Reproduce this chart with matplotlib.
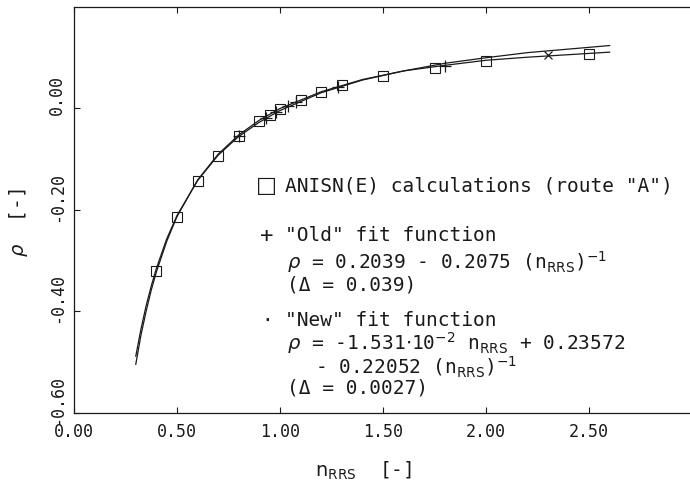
import numpy as np
import matplotlib
matplotlib.use('Agg')
from matplotlib import pyplot as plt
from matplotlib.transforms import ScaledTranslation

# values
n_fit = [0.30, 0.325, 0.35, 0.375, 0.40, 0.45, 0.50, 0.60, 0.70, 0.80, 0.90, 1.00,
         1.20, 1.40, 1.60, 1.80, 2.00, 2.20, 2.40, 2.60]
rho_old = [-0.488, -0.435, -0.389, -0.350, -0.315, -0.257, -0.211, -0.142, -0.092,
           -0.055, -0.027, -0.004, 0.031, 0.056, 0.074, 0.089, 0.100, 0.110, 0.117,
           0.124]
rho_new = [-0.504, -0.447, -0.400, -0.358, -0.322, -0.262, -0.213, -0.141, -0.090,
           -0.052, -0.023, 0.000, 0.033, 0.057, 0.074, 0.085, 0.095, 0.101, 0.106,
           0.111]

n_anisn = [0.40, 0.50, 0.60, 0.70, 0.80, 0.90, 0.95, 1.00, 1.10, 1.20, 1.30, 1.50,
           1.75, 2.00, 2.50]
rho_anisn = [-0.321, -0.214, -0.143, -0.093, -0.054, -0.024, -0.012, -0.001, 0.017,
             0.033, 0.046, 0.064, 0.080, 0.093, 0.107]

n_plus = [0.80, 0.93, 0.98, 1.04, 1.08, 1.28, 1.80]
rho_plus = [-0.054, -0.018, -0.006, 0.005, 0.013, 0.042, 0.083]
n_star = [2.30]
rho_star = [0.105]

xticks = [0.0, 0.5, 1.0, 1.5, 2.0, 2.5]
yticks = [-0.6, -0.4, -0.2, 0.0]

ink = '#1a1a1a'
mono = 'DejaVu Sans Mono'

fig = plt.figure(figsize=(6.9, 4.88), dpi=100)
ax = fig.add_axes([0.1072, 0.1537, 0.8928, 0.832])

ax.plot(n_fit, rho_old, color=ink, lw=0.9)
ax.plot(n_fit, rho_new, color=ink, lw=0.9)
ax.plot(n_anisn, rho_anisn, ls='none', marker='s', ms=7, mfc='none', mec=ink, mew=0.8)
ax.plot(n_plus, rho_plus, ls='none', marker='+', ms=8, color=ink, mew=0.9)
ax.plot(n_star, rho_star, ls='none', marker='x', ms=6, color=ink, mew=0.9)

ax.set_xlim(0, 2.99)
ax.set_ylim(-0.6, 0.2)
ax.set_xticks(xticks)
ax.set_xticklabels(['%.2f' % v for v in xticks], family=mono, fontsize=12, color=ink)
ax.set_yticks(yticks)
ax.set_yticklabels(['%.2f' % v for v in yticks], family=mono, fontsize=12, color=ink,
                   rotation=90, va='center')
ax.tick_params(direction='in', length=4, width=0.8, top=True, right=False, colors=ink)
ax.tick_params(axis='x', pad=7)
ax.tick_params(axis='y', pad=6)
shift = ScaledTranslation(0, 13 / 100, fig.dpi_scale_trans)
for lbl in ax.get_yticklabels():
    lbl.set_transform(lbl.get_transform() + shift)
ax.spines['right'].set_visible(False)
for s in ['left', 'bottom', 'top']:
    ax.spines[s].set_linewidth(0.9)
    ax.spines[s].set_color(ink)

ax.set_xlabel(r'$\mathrm{n_{RRS}}$  [-]', family=mono, fontsize=14, color=ink)
ax.xaxis.set_label_coords(0.47, -0.115)
ax.set_ylabel(r'$\rho$  [-]', family=mono, fontsize=14, color=ink)
ax.yaxis.set_label_coords(-0.072, 0.47)

# legend block drawn as text
fs = 14
tx = 0.343
ax.text(0.313, 0.558, '\u25a1', transform=ax.transAxes, fontsize=16, color=ink,
        va='center', ha='center', family='DejaVu Sans')
ax.text(tx, 0.558, 'ANISN(E) calculations (route "A")', transform=ax.transAxes,
        fontsize=fs, color=ink, va='center', family=mono)
ax.text(0.313, 0.437, '+', transform=ax.transAxes, fontsize=16, color=ink,
        va='center', ha='center', family=mono)
ax.text(tx, 0.437, '"Old" fit function', transform=ax.transAxes,
        fontsize=fs, color=ink, va='center', family=mono)
ax.text(0.346, 0.372, r'$\rho$ = 0.2039 - 0.2075 (n$_{\mathrm{RRS}}$)$^{-1}$',
        transform=ax.transAxes, fontsize=fs, color=ink, va='center', family=mono)
ax.text(0.346, 0.315, '(\u0394 = 0.039)', transform=ax.transAxes,
        fontsize=fs, color=ink, va='center', family=mono)
ax.text(0.313, 0.228, '\u00b7', transform=ax.transAxes, fontsize=14, color=ink,
        va='center', ha='center', family=mono)
ax.text(tx, 0.228, '"New" fit function', transform=ax.transAxes,
        fontsize=fs, color=ink, va='center', family=mono)
ax.text(0.346, 0.173,
        r'$\rho$ = -1.531$\cdot$10$^{-2}$ n$_{\mathrm{RRS}}$ + 0.23572',
        transform=ax.transAxes, fontsize=fs, color=ink, va='center', family=mono)
ax.text(0.392, 0.113, r'- 0.22052 (n$_{\mathrm{RRS}}$)$^{-1}$',
        transform=ax.transAxes, fontsize=fs, color=ink, va='center', family=mono)
ax.text(0.346, 0.062, '(\u0394 = 0.0027)', transform=ax.transAxes,
        fontsize=fs, color=ink, va='center', family=mono)

plt.savefig('out.png', dpi=100)
